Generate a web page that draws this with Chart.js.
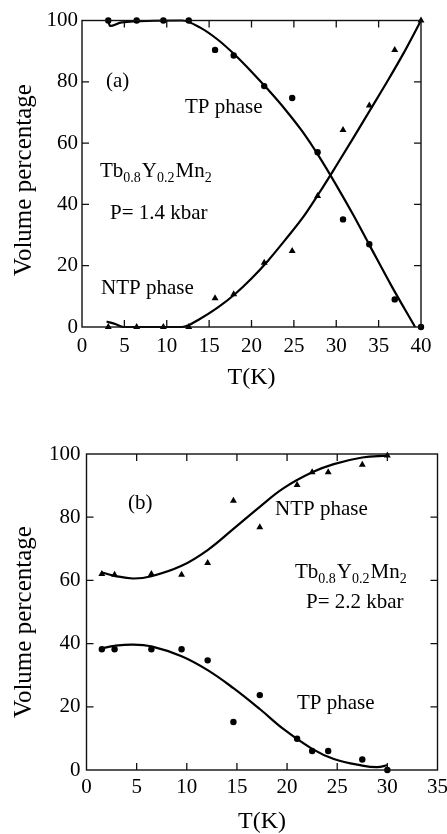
<!DOCTYPE html>
<html><head><meta charset="utf-8">
<script src="https://cdn.jsdelivr.net/npm/chart.js@4.4.1/dist/chart.umd.min.js"></script>
<style>
html,body{margin:0;padding:0;background:#fff;width:447px;height:834px;overflow:hidden;}
canvas{position:absolute;left:0;}
#c1{top:0;} #c2{top:420px;}
</style></head><body>
<canvas id="c1" width="447" height="400"></canvas>
<canvas id="c2" width="447" height="414"></canvas>
<script>
// ---------- Panel (a): P = 1.4 kbar ----------
const tempA = [3.1, 6.45, 9.6, 12.6, 15.7, 17.9, 21.5, 24.8, 27.8, 30.8, 33.9, 36.9, 40.0];
const tpA   = [100, 100, 100, 100, 90.4, 88.6, 78.6, 74.7, 57.0, 35.1, 27.0, 9.0, 0];
const ntpA  = [0, 0, 0, 0, 9.4, 10.7, 21.0, 24.8, 42.7, 64.3, 72.3, 90.4, 100];
const fitTpA_T  = [3.1, 3.3, 4.7, 11.8, 14, 16, 18, 20, 22, 24, 26, 28, 30, 32, 34, 36.5, 39.3];
const fitTpA_V  = [100, 98.2, 99.4, 100, 97.6, 93.8, 88.9, 83.3, 77.3, 70.9, 63.8, 55.5, 46.3, 36.6, 26.3, 13.5, 0];
const fitNtpA_T = [2.9, 4.0, 4.9, 11.8, 14, 16, 18, 20, 22, 24, 26, 28, 30, 32, 34, 36, 38, 40];
const fitNtpA_V = [1.8, 0.9, 0, 0, 2.8, 6.3, 10.6, 15.8, 21.8, 28.5, 35.5, 43.8, 52.6, 61.6, 70.8, 80, 89.6, 100];
const xTicksA = [0, 5, 10, 15, 20, 25, 30, 35, 40];

// ---------- Panel (b): P = 2.2 kbar ----------
const tempB = [1.53, 2.8, 6.47, 9.48, 12.08, 14.65, 17.28, 21.0, 22.5, 24.1, 27.5, 30.0];
const ntpB  = [62.0, 61.8, 62.0, 61.8, 65.5, 85.2, 76.8, 90.2, 94.2, 94.2, 96.6, 99.5];
const tpB   = [38.2, 38.2, 38.2, 38.2, 34.7, 15.2, 23.7, 9.9, 6.0, 6.0, 3.3, 0];
const fitNtpB_T = [1.53, 2.8, 4.64, 6.47, 9.48, 12.08, 14.65, 17.28, 19.66, 22.5, 24.66, 27.5, 30.0];
const fitNtpB_V = [62.5, 61.45, 60.6, 61.3, 64.6, 69.6, 76.3, 83.3, 89.2, 94.2, 96.8, 98.9, 99.5];
const fitTpB_T  = [1.53, 2.8, 4.64, 6.47, 9.48, 12.08, 14.65, 17.28, 19.66, 22.5, 24.66, 27.5, 29.0, 30.0];
const fitTpB_V  = [38.5, 39.3, 39.7, 39.1, 36.0, 31.6, 25.9, 19.3, 12.9, 6.7, 3.5, 1.4, 0.9, 1.5];
const xTicksB = [0, 5, 10, 15, 20, 25, 30, 35];

const yTicks = [0, 20, 40, 60, 80, 100];
const yTitle = 'Volume percentage';
const xTitle = 'T(K)';

const SERIF = "'Liberation Serif', 'Times New Roman', Times, serif";

function pts(xs, ys) { return xs.map((v, i) => ({x: v, y: ys[i]})); }

function markerSet(label, xs, ys, style, r) {
  return {label, data: pts(xs, ys), showLine: false, pointStyle: style,
    pointRadius: r, pointBackgroundColor: '#000', pointBorderColor: '#000',
    pointBorderWidth: 0, clip: false};
}
function fitSet(label, xs, ys, smooth) {
  const d = {label, data: pts(xs, ys), showLine: true, pointRadius: 0,
    borderColor: '#000', borderWidth: 2.2, fill: false, clip: false};
  if (smooth) d.tension = 0.4; else d.cubicInterpolationMode = 'monotone';
  return d;
}

function drawRich(ctx, parts, x, y) {
  let cx = x;
  parts.forEach(p => {
    const sub = Array.isArray(p);
    const txt = sub ? p[0] : p;
    ctx.font = (sub ? '14px ' : '21px ') + SERIF;
    ctx.fillText(txt, cx, sub ? y + 5 : y);
    cx += ctx.measureText(txt).width + (sub ? 1 : 0);
  });
}

function framePlugin(xTicks, notes, yTitlePos) {
  return {
    id: 'frameTicks',
    afterDatasetsDraw(chart) {
      const {ctx, chartArea: a, scales: {x, y}} = chart;
      ctx.save();
      ctx.strokeStyle = '#111';
      ctx.lineWidth = 1.4;
      ctx.strokeRect(a.left, a.top, a.right - a.left, a.bottom - a.top);
      ctx.lineWidth = 1.3;
      ctx.beginPath();
      const L = 7;
      xTicks.forEach(v => {
        if (v <= x.min || v >= x.max) return;
        const px = x.getPixelForValue(v);
        ctx.moveTo(px, a.top); ctx.lineTo(px, a.top + L);
        ctx.moveTo(px, a.bottom); ctx.lineTo(px, a.bottom - L);
      });
      yTicks.forEach(v => {
        if (v <= y.min || v >= y.max) return;
        const py = y.getPixelForValue(v);
        ctx.moveTo(a.left, py); ctx.lineTo(a.left + L, py);
        ctx.moveTo(a.right, py); ctx.lineTo(a.right - L, py);
      });
      ctx.stroke();
      ctx.restore();
    },
    afterDraw(chart) {
      const ctx = chart.ctx;
      ctx.save();
      ctx.fillStyle = '#000';
      ctx.textBaseline = 'alphabetic';
      ctx.textAlign = 'left';
      notes.forEach(n => {
        if (n.rich) drawRich(ctx, n.rich, n.x, n.y);
        else { ctx.font = '21px ' + SERIF; ctx.fillText(n.text, n.x, n.y); }
      });
      ctx.translate(yTitlePos.x, yTitlePos.y);
      ctx.rotate(-Math.PI / 2);
      ctx.textAlign = 'center';
      ctx.textBaseline = 'middle';
      ctx.font = '25px ' + SERIF;
      ctx.fillText(yTitle, 0, 0);
      ctx.restore();
    }
  };
}

function makeChart(id, cfg) {
  return new Chart(document.getElementById(id), {
    type: 'scatter',
    data: {datasets: cfg.datasets},
    options: {
      responsive: false, animation: false, devicePixelRatio: 1,
      layout: {padding: cfg.padding},
      plugins: {legend: {display: false}, tooltip: {enabled: false}},
      scales: {
        x: {
          type: 'linear', min: cfg.xTicks[0], max: cfg.xTicks[cfg.xTicks.length - 1],
          afterBuildTicks: s => { s.ticks = cfg.xTicks.map(v => ({value: v})); },
          afterFit: s => { s.height = cfg.xAxisH; s.paddingLeft = 0; s.paddingRight = 0; },
          grid: {display: false, drawTicks: false}, border: {display: false},
          ticks: {color: '#000', font: {family: SERIF, size: 21}, padding: cfg.xPad, maxRotation: 0, autoSkip: false},
          title: {display: true, text: xTitle, color: '#000', font: {family: SERIF, size: 24}, padding: {top: 0, bottom: cfg.titlePadB}}
        },
        y: {
          type: 'linear', min: 0, max: 100,
          afterBuildTicks: s => { s.ticks = yTicks.map(v => ({value: v})); },
          afterFit: s => { s.width = cfg.yAxisW; s.paddingTop = 0; s.paddingBottom = 0; },
          grid: {display: false, drawTicks: false}, border: {display: false},
          ticks: {color: '#000', font: {family: SERIF, size: 21}, padding: cfg.yPad, autoSkip: false}
        }
      }
    },
    plugins: [framePlugin(cfg.xTicks, cfg.notes, cfg.yTitlePos)]
  });
}

makeChart('c1', {
  datasets: [
    fitSet('TP fit', fitTpA_T, fitTpA_V, false),
    fitSet('NTP fit', fitNtpA_T, fitNtpA_V, false),
    markerSet('TP phase', tempA, tpA, 'circle', 3.2),
    markerSet('NTP phase', tempA, ntpA, 'triangle', 4)
  ],
  xTicks: xTicksA,
  padding: {top: 20.5, right: 26, bottom: 0, left: 0},
  xAxisH: 73, yAxisW: 82, xPad: 7, yPad: 4, titlePadB: 7.6,
  yTitlePos: {x: 24, y: 180},
  notes: [
    {text: '(a)', x: 106, y: 87},
    {text: 'TP phase', x: 185, y: 113},
    {rich: ['Tb', ['0.8'], 'Y', ['0.2'], 'Mn', ['2']], x: 100, y: 177},
    {text: 'P= 1.4 kbar', x: 110, y: 219},
    {text: 'NTP phase', x: 101, y: 294}
  ]
});

makeChart('c2', {
  datasets: [
    fitSet('NTP fit', fitNtpB_T, fitNtpB_V, true),
    fitSet('TP fit', fitTpB_T, fitTpB_V, true),
    markerSet('NTP phase', tempB, ntpB, 'triangle', 4),
    markerSet('TP phase', tempB, tpB, 'circle', 3.2)
  ],
  xTicks: xTicksB,
  padding: {top: 34, right: 9.5, bottom: 0, left: 0},
  xAxisH: 64, yAxisW: 86.5, xPad: 5, yPad: 6, titlePadB: -2,
  yTitlePos: {x: 24, y: 202},
  notes: [
    {text: '(b)', x: 128, y: 89},
    {text: 'NTP phase', x: 275, y: 95},
    {rich: ['Tb', ['0.8'], 'Y', ['0.2'], 'Mn', ['2']], x: 295, y: 158},
    {text: 'P= 2.2 kbar', x: 306, y: 188},
    {text: 'TP phase', x: 297, y: 289}
  ]
});
</script>
</body></html>
